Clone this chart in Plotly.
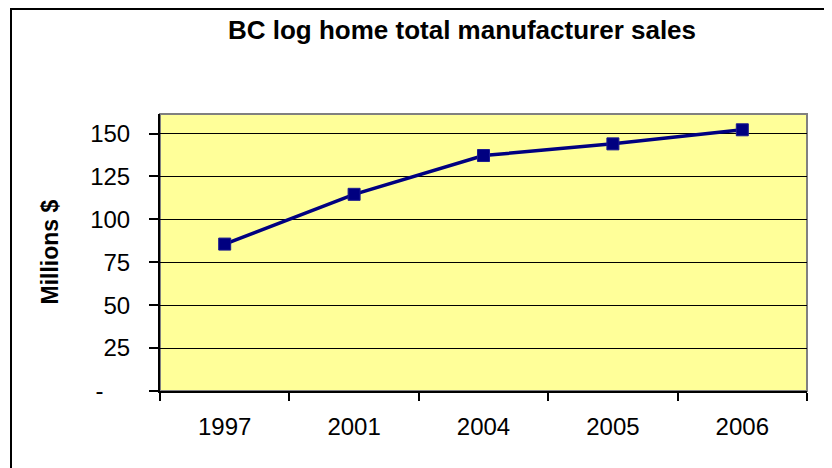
import plotly.graph_objects as go

years = ["1997", "2001", "2004", "2005", "2006"]
sales = [85.6, 114.6, 137.2, 144.0, 152.2]
y_tickvals = [0, 25, 50, 75, 100, 125, 150]
y_ticktext = ["-\u00a0\u00a0\u00a0\u00a0", "25", "50", "75", "100", "125", "150"]

FONT = "Arial, Liberation Sans, sans-serif"

# page body has an 8px margin, so figure coordinates are offset by 8px
OFF = 8
W, H = 832 - OFF, 468 - OFF
L, R, T, B = 160 - OFF, 807 - OFF, 114 - OFF, 391 - OFF
pw, ph = R - L, B - T

fig = go.Figure()
fig.add_trace(go.Scatter(
    x=years, y=sales, mode="lines+markers",
    line=dict(color="#000080", width=3.5),
    marker=dict(symbol="square", size=12, color="#000080",
                line=dict(color="#1c1c90", width=1)),
    showlegend=False, cliponaxis=False,
))

def px_x(p):
    return (p - OFF - L) / pw

def px_y(p):
    return (B - (p - OFF)) / ph

fig.update_layout(
    width=W, height=H,
    margin=dict(l=L, r=W - R, t=T, b=H - B),
    paper_bgcolor="white",
    plot_bgcolor="#FFFF99",
    font=dict(family=FONT, color="black"),
    title=dict(text="<b>BC log home total manufacturer sales</b>",
               font=dict(family=FONT, size=26, color="black"),
               x=(462 - OFF) / W, xanchor="center", xref="container",
               y=1 - (30 - OFF) / H, yanchor="middle", yref="container"),
    shapes=[
        dict(type="rect", xref="paper", yref="paper", x0=0, x1=1, y0=0, y1=1,
             line=dict(color="#808080", width=2), layer="below"),
        dict(type="rect", xref="paper", yref="paper",
             x0=px_x(11), x1=px_x(850), y0=px_y(500), y1=px_y(9),
             line=dict(color="black", width=2), layer="above"),
    ],
    annotations=[
        dict(text="<b>Millions $</b>", textangle=-90, showarrow=False,
             xref="paper", yref="paper", x=px_x(49), y=0.5,
             xanchor="center", yanchor="middle",
             font=dict(family=FONT, size=23, color="black")),
    ],
)

fig.update_xaxes(
    type="category", range=[-0.5, 4.5],
    tickson="boundaries", ticks="outside", ticklen=8, tickwidth=1.5, tickcolor="black",
    showline=True, linecolor="black", linewidth=2,
    showgrid=False, zeroline=False,
    tickfont=dict(family=FONT, size=24, color="black"),
    ticklabelstandoff=13,
)
fig.update_yaxes(
    range=[0, 161.4],
    tickvals=y_tickvals, ticktext=y_ticktext,
    ticks="outside", ticklen=9, tickwidth=1.5, tickcolor="black",
    showline=True, linecolor="black", linewidth=2,
    showgrid=True, gridcolor="black", gridwidth=1.3,
    zeroline=False,
    tickfont=dict(family=FONT, size=24, color="black"),
    ticklabelstandoff=14,
)

fig.write_html("out.html")
